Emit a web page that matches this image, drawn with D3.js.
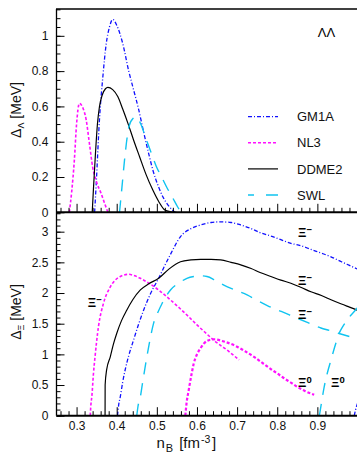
<!DOCTYPE html>
<html>
<head>
<meta charset="utf-8">
<script src="https://cdn.jsdelivr.net/npm/d3@7"></script>
<style>
  body { margin: 0; background: #fff; }
  svg { display: block; }
</style>
</head>
<body>
<div id="chart"></div>
<script>
// ---- data ----
var models = ["GM1A", "NL3", "DDME2", "SWL"];

// Lambda-Lambda gap (upper panel)
var lamN_GM1A = [0.345, 0.349, 0.357, 0.3655, 0.374, 0.382, 0.390, 0.400, 0.415, 0.430, 0.440, 0.455, 0.466, 0.480, 0.490, 0.505, 0.515, 0.530, 0.545];
var lamD_GM1A = [0, 0.164, 0.523, 0.768, 0.957, 1.05, 1.093, 1.06, 0.957, 0.80, 0.712, 0.58, 0.466, 0.33, 0.24, 0.14, 0.088, 0.035, 0];
var lamN_NL3 = [0.282, 0.288, 0.2945, 0.300, 0.307, 0.314, 0.324, 0.332, 0.340, 0.350, 0.361, 0.370, 0.378];
var lamD_NL3 = [0, 0.12, 0.296, 0.50, 0.617, 0.60, 0.523, 0.39, 0.258, 0.17, 0.108, 0.05, 0];
var lamN_DDME2 = [0.339, 0.342, 0.347, 0.352, 0.357, 0.364, 0.372, 0.378, 0.390, 0.403, 0.415, 0.428, 0.442, 0.457, 0.473, 0.490, 0.505, 0.520, 0.535, 0.549];
var lamD_DDME2 = [0, 0.13, 0.33, 0.50, 0.598, 0.665, 0.70, 0.708, 0.695, 0.655, 0.585, 0.504, 0.41, 0.315, 0.215, 0.126, 0.06, 0.013, 0.003, 0];
var lamN_SWL = [0.407, 0.413, 0.4195, 0.4305, 0.440, 0.449, 0.460, 0.474, 0.487, 0.499, 0.512, 0.524, 0.540, 0.552, 0.561];
var lamD_SWL = [0, 0.14, 0.296, 0.485, 0.53, 0.54, 0.50, 0.41, 0.33, 0.258, 0.20, 0.145, 0.08, 0.03, 0];

// Xi gaps (lower panel)
var xiN_GM1A = [0.402, 0.405, 0.409, 0.415, 0.421, 0.430, 0.442, 0.455, 0.467, 0.485, 0.5045, 0.520, 0.534, 0.559, 0.585, 0.609, 0.635, 0.659, 0.685, 0.709, 0.735, 0.759, 0.784, 0.809, 0.834, 0.860, 0.884, 0.910, 0.934, 0.960, 0.980, 1.0];
var xiD_GM1A = [0, 0.18, 0.31, 0.55, 0.745, 0.98, 1.234, 1.50, 1.72, 2.0, 2.24, 2.45, 2.63, 2.92, 3.05, 3.11, 3.15, 3.16, 3.15, 3.11, 3.05, 2.98, 2.93, 2.87, 2.81, 2.77, 2.71, 2.65, 2.59, 2.51, 2.45, 2.39];
var xi0N_GM1A = [0.992, 0.995, 1.0];
var xi0D_GM1A = [0, 0.09, 0.2];
var xiN_NL3 = [0.334, 0.336, 0.338, 0.342, 0.346, 0.3545, 0.367, 0.384, 0.395, 0.409, 0.43, 0.445, 0.459, 0.48, 0.5045, 0.53, 0.559, 0.58, 0.60, 0.62, 0.642, 0.66, 0.675, 0.69, 0.705];
var xiD_NL3 = [0, 0.2, 0.31, 0.68, 0.96, 1.45, 1.83, 2.10, 2.2, 2.27, 2.305, 2.28, 2.24, 2.16, 2.05, 1.91, 1.74, 1.61, 1.48, 1.36, 1.23, 1.14, 1.07, 0.99, 0.91];
var xi0N_NL3 = [0.571, 0.574, 0.5795, 0.586, 0.592, 0.600, 0.609, 0.625, 0.642, 0.667, 0.70, 0.72, 0.742, 0.763, 0.784, 0.80, 0.817, 0.834, 0.85, 0.87, 0.892];
var xi0D_NL3 = [0, 0.2, 0.42, 0.66, 0.85, 1.0, 1.10, 1.22, 1.246, 1.21, 1.125, 1.05, 0.96, 0.86, 0.76, 0.69, 0.61, 0.54, 0.47, 0.40, 0.34];
var xiN_DDME2 = [0.371, 0.3712, 0.375, 0.384, 0.392, 0.400, 0.412, 0.425, 0.440, 0.459, 0.48, 0.5045, 0.53, 0.559, 0.585, 0.609, 0.635, 0.659, 0.685, 0.709, 0.735, 0.759, 0.784, 0.809, 0.834, 0.86, 0.884, 0.91, 0.934, 0.96, 0.98, 1.0];
var xiD_DDME2 = [0, 0.5, 0.75, 0.96, 1.17, 1.34, 1.55, 1.72, 1.89, 2.05, 2.15, 2.24, 2.39, 2.51, 2.54, 2.55, 2.55, 2.54, 2.50, 2.46, 2.40, 2.33, 2.27, 2.21, 2.16, 2.09, 2.02, 1.96, 1.89, 1.82, 1.77, 1.72];
var xiN_SWL = [0.45, 0.453, 0.459, 0.465, 0.471, 0.481, 0.492, 0.503, 0.513, 0.534, 0.559, 0.575, 0.592, 0.61, 0.625, 0.645, 0.667, 0.695, 0.725, 0.75, 0.78, 0.81, 0.842, 0.875, 0.909, 0.93, 0.954, 0.98];
var xiD_SWL = [0, 0.15, 0.31, 0.56, 0.80, 1.17, 1.51, 1.69, 1.83, 2.05, 2.18, 2.24, 2.27, 2.28, 2.27, 2.21, 2.13, 2.05, 1.97, 1.88, 1.78, 1.70, 1.61, 1.52, 1.43, 1.39, 1.34, 1.29];
var xi0N_SWL = [0.905, 0.910, 0.917, 0.925, 0.934, 0.946, 0.954, 0.962, 0.971, 0.980, 0.988, 1.0];
var xi0D_SWL = [0, 0.2, 0.47, 0.70, 0.91, 1.18, 1.34, 1.44, 1.53, 1.61, 1.67, 1.76];

// tick labels
var xTickLabels = [0.3, 0.4, 0.5, 0.6, 0.7, 0.8, 0.9];
var yTopTicks = [0, 0.2, 0.4, 0.6, 0.8, 1];
var yBotTicks = [0, 0.5, 1, 1.5, 2, 2.5, 3];

// ---- styles ----
var font = "'Liberation Sans', Arial, Helvetica, sans-serif";
var style = {
    GM1A:  {color: "#1010ff", dash: "4,2,1,2", width: 1.3},
    NL3:   {color: "#ff10ff", dash: "3,2", width: 1.6},
    DDME2: {color: "#000000", dash: null, width: 1.2},
    SWL:   {color: "#10c4f0", dash: "12,9", width: 1.4}
};

var width = 357, height = 454;
var plotL = 56.5, plotR = 357.5, plotT = 9, plotM = 212.3, plotB = 415.7;

var svg = d3.select("#chart")
    .append("svg")
    .attr("width", width)
    .attr("height", height)
    .attr("font-family", font);

// scales
const x = d3.scaleLinear().domain([0.25, 1.0]).range([plotL, plotR]);
const yTop = d3.scaleLinear().domain([0, 1.152]).range([plotM, plotT]);
const yBot = d3.scaleLinear().domain([0, 3.316]).range([plotB, plotM]);

svg.append("clipPath").attr("id", "clipTop")
    .append("rect").attr("x", plotL).attr("y", plotT).attr("width", plotR - plotL).attr("height", plotM - plotT);
svg.append("clipPath").attr("id", "clipBot")
    .append("rect").attr("x", plotL).attr("y", plotM).attr("width", plotR - plotL).attr("height", plotB - plotM);

function pts(n, d) { return n.map((v, i) => [v, d[i]]); }

function drawCurve(clip, yScale, n, d, model, extraWidth) {
    var s = style[model];
    var line = d3.line()
        .x(p => x(p[0]))
        .y(p => yScale(p[1]))
        .curve(d3.curveMonotoneX);
    svg.append("path")
        .attr("clip-path", "url(#" + clip + ")")
        .attr("d", line(pts(n, d)))
        .attr("fill", "none")
        .attr("stroke", s.color)
        .attr("stroke-width", s.width + (extraWidth || 0))
        .attr("stroke-dasharray", s.dash);
}

// upper panel curves
drawCurve("clipTop", yTop, lamN_GM1A, lamD_GM1A, "GM1A");
drawCurve("clipTop", yTop, lamN_NL3, lamD_NL3, "NL3");
drawCurve("clipTop", yTop, lamN_DDME2, lamD_DDME2, "DDME2");
drawCurve("clipTop", yTop, lamN_SWL, lamD_SWL, "SWL");

// lower panel curves
drawCurve("clipBot", yBot, xiN_GM1A, xiD_GM1A, "GM1A");
drawCurve("clipBot", yBot, xi0N_GM1A, xi0D_GM1A, "GM1A");
drawCurve("clipBot", yBot, xiN_NL3, xiD_NL3, "NL3");
drawCurve("clipBot", yBot, xi0N_NL3, xi0D_NL3, "NL3", 0.6);
drawCurve("clipBot", yBot, xiN_DDME2, xiD_DDME2, "DDME2");
drawCurve("clipBot", yBot, xiN_SWL, xiD_SWL, "SWL");
drawCurve("clipBot", yBot, xi0N_SWL, xi0D_SWL, "SWL");

// axes (ticks inside, ROOT style)
var xMajor = d3.range(3, 11).map(i => i / 10);
var xMinor = d3.range(13, 51).map(i => i * 0.02).filter(v => Math.abs(v * 10 - Math.round(v * 10)) > 1e-6);

function tidy(g) {
    g.select(".domain").remove();
    g.selectAll("line").attr("stroke", "#000").attr("stroke-width", 1);
    g.selectAll("text").attr("fill", "#111").attr("font-size", 12).attr("font-family", font);
}

function xAxes(yPos, labels) {
    svg.append("g")
        .attr("transform", `translate(0,${yPos})`)
        .call(d3.axisBottom(x).tickValues(xMinor).tickSize(-4.5).tickFormat(""))
        .call(tidy);
    svg.append("g")
        .attr("transform", `translate(0,${yPos})`)
        .call(d3.axisBottom(x).tickValues(xMajor).tickSize(-8.5).tickPadding(6)
            .tickFormat(d => (labels && xTickLabels.indexOf(d) >= 0) ? d : ""))
        .call(tidy);
}
xAxes(plotM, false);
xAxes(plotB, true);

function yAxes(yScale, minor, major, fmt) {
    svg.append("g")
        .attr("transform", `translate(${plotL},0)`)
        .call(d3.axisLeft(yScale).tickValues(minor).tickSize(-4).tickFormat(""))
        .call(tidy);
    svg.append("g")
        .attr("transform", `translate(${plotL},0)`)
        .call(d3.axisLeft(yScale).tickValues(major).tickSize(-8).tickPadding(8.2).tickFormat(fmt))
        .call(tidy);
}
yAxes(yTop, d3.range(0, 24).map(i => i * 0.05), yTopTicks, d => String(+d.toFixed(1)));
yAxes(yBot, d3.range(0, 34).map(i => i * 0.1), yBotTicks, d => String(+d.toFixed(1)));

// frame
svg.append("line").attr("x1", plotL - 0.5).attr("x2", plotR).attr("y1", plotT).attr("y2", plotT)
    .attr("stroke", "#000").attr("stroke-width", 1.3);
svg.append("line").attr("x1", plotL).attr("x2", plotL).attr("y1", plotT).attr("y2", plotB)
    .attr("stroke", "#000").attr("stroke-width", 1.3);
svg.append("line").attr("x1", plotL).attr("x2", plotR).attr("y1", plotM).attr("y2", plotM)
    .attr("stroke", "#000").attr("stroke-width", 2);
svg.append("line").attr("x1", plotL).attr("x2", plotR).attr("y1", plotB).attr("y2", plotB)
    .attr("stroke", "#000").attr("stroke-width", 2);

// axis titles
var xt = svg.append("text").attr("x", 156.5).attr("y", 448).attr("font-size", 15).attr("fill", "#111");
xt.append("tspan").text("n");
xt.append("tspan").attr("font-size", 11).attr("dy", 4).attr("dx", 1).text("B");
xt.append("tspan").attr("dy", -4).attr("dx", 6).text("[fm");
xt.append("tspan").attr("font-size", 10.5).attr("dy", -5.5).attr("dx", 1).text("-3");
xt.append("tspan").attr("dy", 5.5).attr("dx", 1.5).text("]");

function yTitle(yc, sub) {
    var t = svg.append("text")
        .attr("transform", `translate(21,${yc}) rotate(-90)`)
        .attr("text-anchor", "middle")
        .attr("font-size", 14)
        .attr("fill", "#111");
    t.append("tspan").text("Δ");
    t.append("tspan").attr("font-size", 9).attr("dy", 3).text(sub);
    t.append("tspan").attr("dy", -3).text(" [MeV]");
}
yTitle(110, "Λ");
yTitle(312, "Ξ");

// legend
var legend = svg.append("g");
models.forEach(function (m, i) {
    var yy = 116.7 + i * 26.1;
    var s = style[m];
    legend.append("line")
        .attr("x1", 248).attr("x2", 278).attr("y1", yy).attr("y2", yy)
        .attr("stroke", s.color).attr("stroke-width", s.width)
        .attr("stroke-dasharray", m === "SWL" ? "6,12,12" : s.dash);
    legend.append("text")
        .attr("x", 297).attr("y", yy).attr("dy", "0.36em")
        .attr("font-size", 13).attr("fill", "#111")
        .text(m);
});

svg.append("text")
    .attr("x", 326.5).attr("y", 32).attr("dy", "0.36em")
    .attr("text-anchor", "middle").attr("font-size", 13).attr("fill", "#000")
    .text("ΛΛ");

// Xi labels, placed in data units
var xiLabelN = [0.852, 0.852, 0.852, 0.852, 0.934, 0.328];
var xiLabelD = [2.91, 2.13, 1.58, 0.47, 0.47, 1.77];
var xiLabelSup = ["−", "−", "−", "0", "0", "−"];
xiLabelN.forEach(function (n, i) {
    var t = svg.append("text")
        .attr("x", x(n)).attr("y", yBot(xiLabelD[i]))
        .attr("font-size", 13).attr("font-weight", "bold").attr("fill", "#000");
    t.append("tspan").text("Ξ");
    t.append("tspan").attr("font-size", 9.5).attr("dy", -4).text(xiLabelSup[i]);
});
</script>
</body>
</html>
